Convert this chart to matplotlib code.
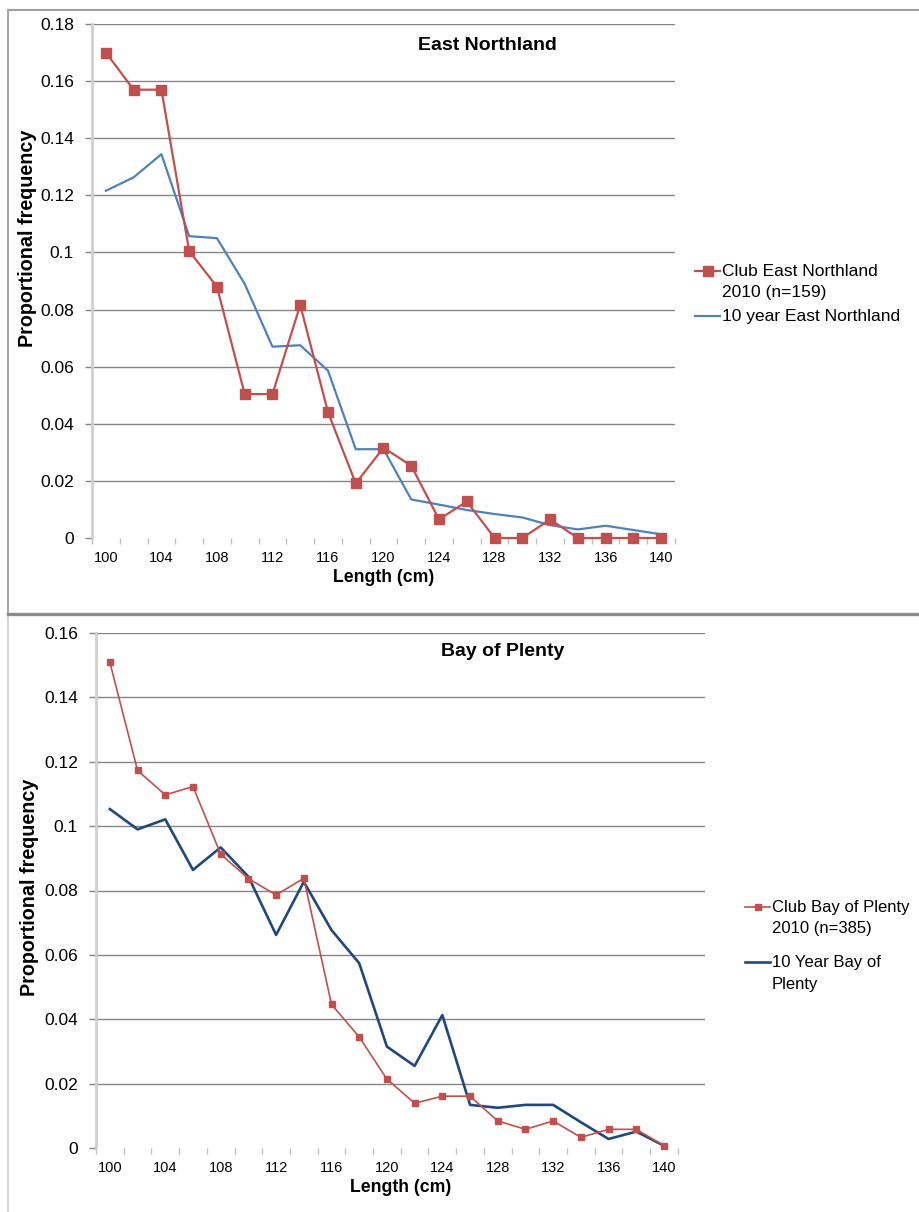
import numpy as np
import matplotlib
matplotlib.use("Agg")
import matplotlib.pyplot as plt
from matplotlib.lines import Line2D
from matplotlib.ticker import FuncFormatter

plt.rcParams['font.family'] = ['Liberation Sans', 'DejaVu Sans']

# data
lengths = [100, 102, 104, 106, 108, 110, 112, 114, 116, 118, 120,
           122, 124, 126, 128, 130, 132, 134, 136, 138, 140]

club_en = [0.170, 0.157, 0.157, 0.1005, 0.088, 0.0504, 0.0504, 0.0816, 0.0441, 0.0191, 0.0316,
           0.0253, 0.0065, 0.0128, 0.0, 0.0, 0.0065, 0.0, 0.0, 0.0, 0.0]
ten_en = [0.1216, 0.1263, 0.1344, 0.1057, 0.105, 0.089, 0.067, 0.0675, 0.0586, 0.0311, 0.0311,
          0.0135, 0.0117, 0.0098, 0.0084, 0.0072, 0.0045, 0.003, 0.0043, 0.0028, 0.0013]

club_bop = [0.1509, 0.1173, 0.1097, 0.1123, 0.0913, 0.0837, 0.0786, 0.0838, 0.0446, 0.0345, 0.0214,
            0.0139, 0.0161, 0.0161, 0.0084, 0.0058, 0.0084, 0.0033, 0.0058, 0.0058, 0.0007]
ten_bop = [0.1053, 0.099, 0.1021, 0.0864, 0.0934, 0.0843, 0.0662, 0.0827, 0.0677, 0.0574, 0.0315,
           0.0255, 0.0413, 0.0134, 0.0125, 0.0134, 0.0134, 0.008, 0.0028, 0.0051, 0.0007]

RED = '#C0504D'
BLUE = '#4F81BD'
NAVY = '#1F497D'

W, H = 920, 1212
fig = plt.figure(figsize=(9.2, 12.12), dpi=100)


def fx(px):
    return px / W


def fy(py):
    return 1 - py / H


def setup(ax, ymax, xright):
    x = np.arange(len(lengths))
    ax.set_xlim(-0.5, xright)
    ax.set_ylim(0, ymax)
    yt = np.arange(0, ymax + 1e-9, 0.02)
    ax.set_yticks(yt)
    ax.yaxis.set_major_formatter(FuncFormatter(lambda v, p: '%g' % round(v, 2)))
    for v in yt[1:]:
        ax.axhline(v, color='#868686', lw=1, zorder=0)
    ax.set_xticks(x[::2])
    ax.set_xticklabels([str(l) for l in lengths[::2]])
    ax.set_xticks(np.arange(-0.5, len(lengths)), minor=True)
    ax.tick_params(axis='x', which='major', length=0, labelsize=10.5, pad=9)
    ax.tick_params(axis='x', which='minor', length=4.5, color='#c0c0c0', width=1)
    ax.tick_params(axis='y', length=5, color='#868686', width=1, labelsize=12.5, pad=8)
    for s in ['top', 'right', 'bottom']:
        ax.spines[s].set_visible(False)
    ax.spines['left'].set_color('#d0d0d0')
    ax.spines['left'].set_linewidth(2)
    ax.patch.set_alpha(0)


def legend_top_align(leg, spacing):
    # handle level with the first line of a two line label, like the original
    for col in leg._legend_handle_box.get_children():
        for row in col.get_children():
            row.align = 'top'
    for t in leg.get_texts():
        t.set_linespacing(spacing)


# top panel: East Northland
ax1 = fig.add_axes([fx(92), fy(538), (675 - 92) / W, (538 - 24) / H])
setup(ax1, 0.18, 20.5)
xs = np.arange(len(lengths))
l1, = ax1.plot(xs, club_en, color=RED, lw=1.6, marker='s', ms=6.8, clip_on=False, zorder=3)
l2, = ax1.plot(xs, ten_en, color=BLUE, lw=1.6, clip_on=False, zorder=2)
leg1 = ax1.legend([l1, l2], ['Club East Northland\n2010 (n=159)', '10 year East Northland'],
                  loc='upper left', bbox_to_anchor=(fx(695), fy(264)), bbox_transform=fig.transFigure,
                  frameon=False, fontsize=12.5, borderpad=0, borderaxespad=0, handlelength=1.45,
                  handletextpad=0.12, labelspacing=0.54, handleheight=1.0)
legend_top_align(leg1, 1.5)
fig.text(fx(487), fy(45), 'East Northland', ha='center', va='center', fontsize=14, fontweight='bold')
fig.text(fx(28), fy(238), 'Proportional frequency', ha='center', va='center', rotation=90,
         fontsize=14.2, fontweight='bold')
fig.text(fx(383.5), fy(577), 'Length (cm)', ha='center', va='center', fontsize=12.7, fontweight='bold')

# bottom panel: Bay of Plenty
ax2 = fig.add_axes([fx(96), fy(1148), (705 - 96) / W, (1148 - 633) / H])
setup(ax2, 0.16, 21.48)
l3, = ax2.plot(xs, club_bop, color=RED, lw=1.2, marker='s', ms=4.2, clip_on=False, zorder=3)
l4, = ax2.plot(xs, ten_bop, color=NAVY, lw=1.9, clip_on=False, zorder=2)
leg2 = ax2.legend([l3, l4], ['Club Bay of Plenty\n2010 (n=385)', '10 Year Bay of\nPlenty'],
                  loc='upper left', bbox_to_anchor=(fx(745), fy(900)), bbox_transform=fig.transFigure,
                  frameon=False, fontsize=12, borderpad=0, borderaxespad=0, handlelength=1.5,
                  handletextpad=0.12, labelspacing=1.17, handleheight=1.0)
legend_top_align(leg2, 1.5)
fig.text(fx(503), fy(652), 'Bay of Plenty', ha='center', va='center', fontsize=14, fontweight='bold')
fig.text(fx(30), fy(887), 'Proportional frequency', ha='center', va='center', rotation=90,
         fontsize=14.2, fontweight='bold')
fig.text(fx(400.5), fy(1187), 'Length (cm)', ha='center', va='center', fontsize=12.7, fontweight='bold')

# frames around the two pasted charts
fig.add_artist(Line2D([fx(8), fx(920)], [fy(10), fy(10)], color='#a0a0a0', lw=1.5))
fig.add_artist(Line2D([fx(8), fx(8)], [fy(10), fy(614)], color='#a6a6a6', lw=1.5))
fig.add_artist(Line2D([fx(8), fx(8)], [fy(614), fy(1212)], color='#cccccc', lw=1.2))
fig.add_artist(Line2D([fx(8), fx(920)], [fy(614), fy(614)], color='#8c8c8c', lw=2.4))

fig.savefig('out.png', dpi=100)
